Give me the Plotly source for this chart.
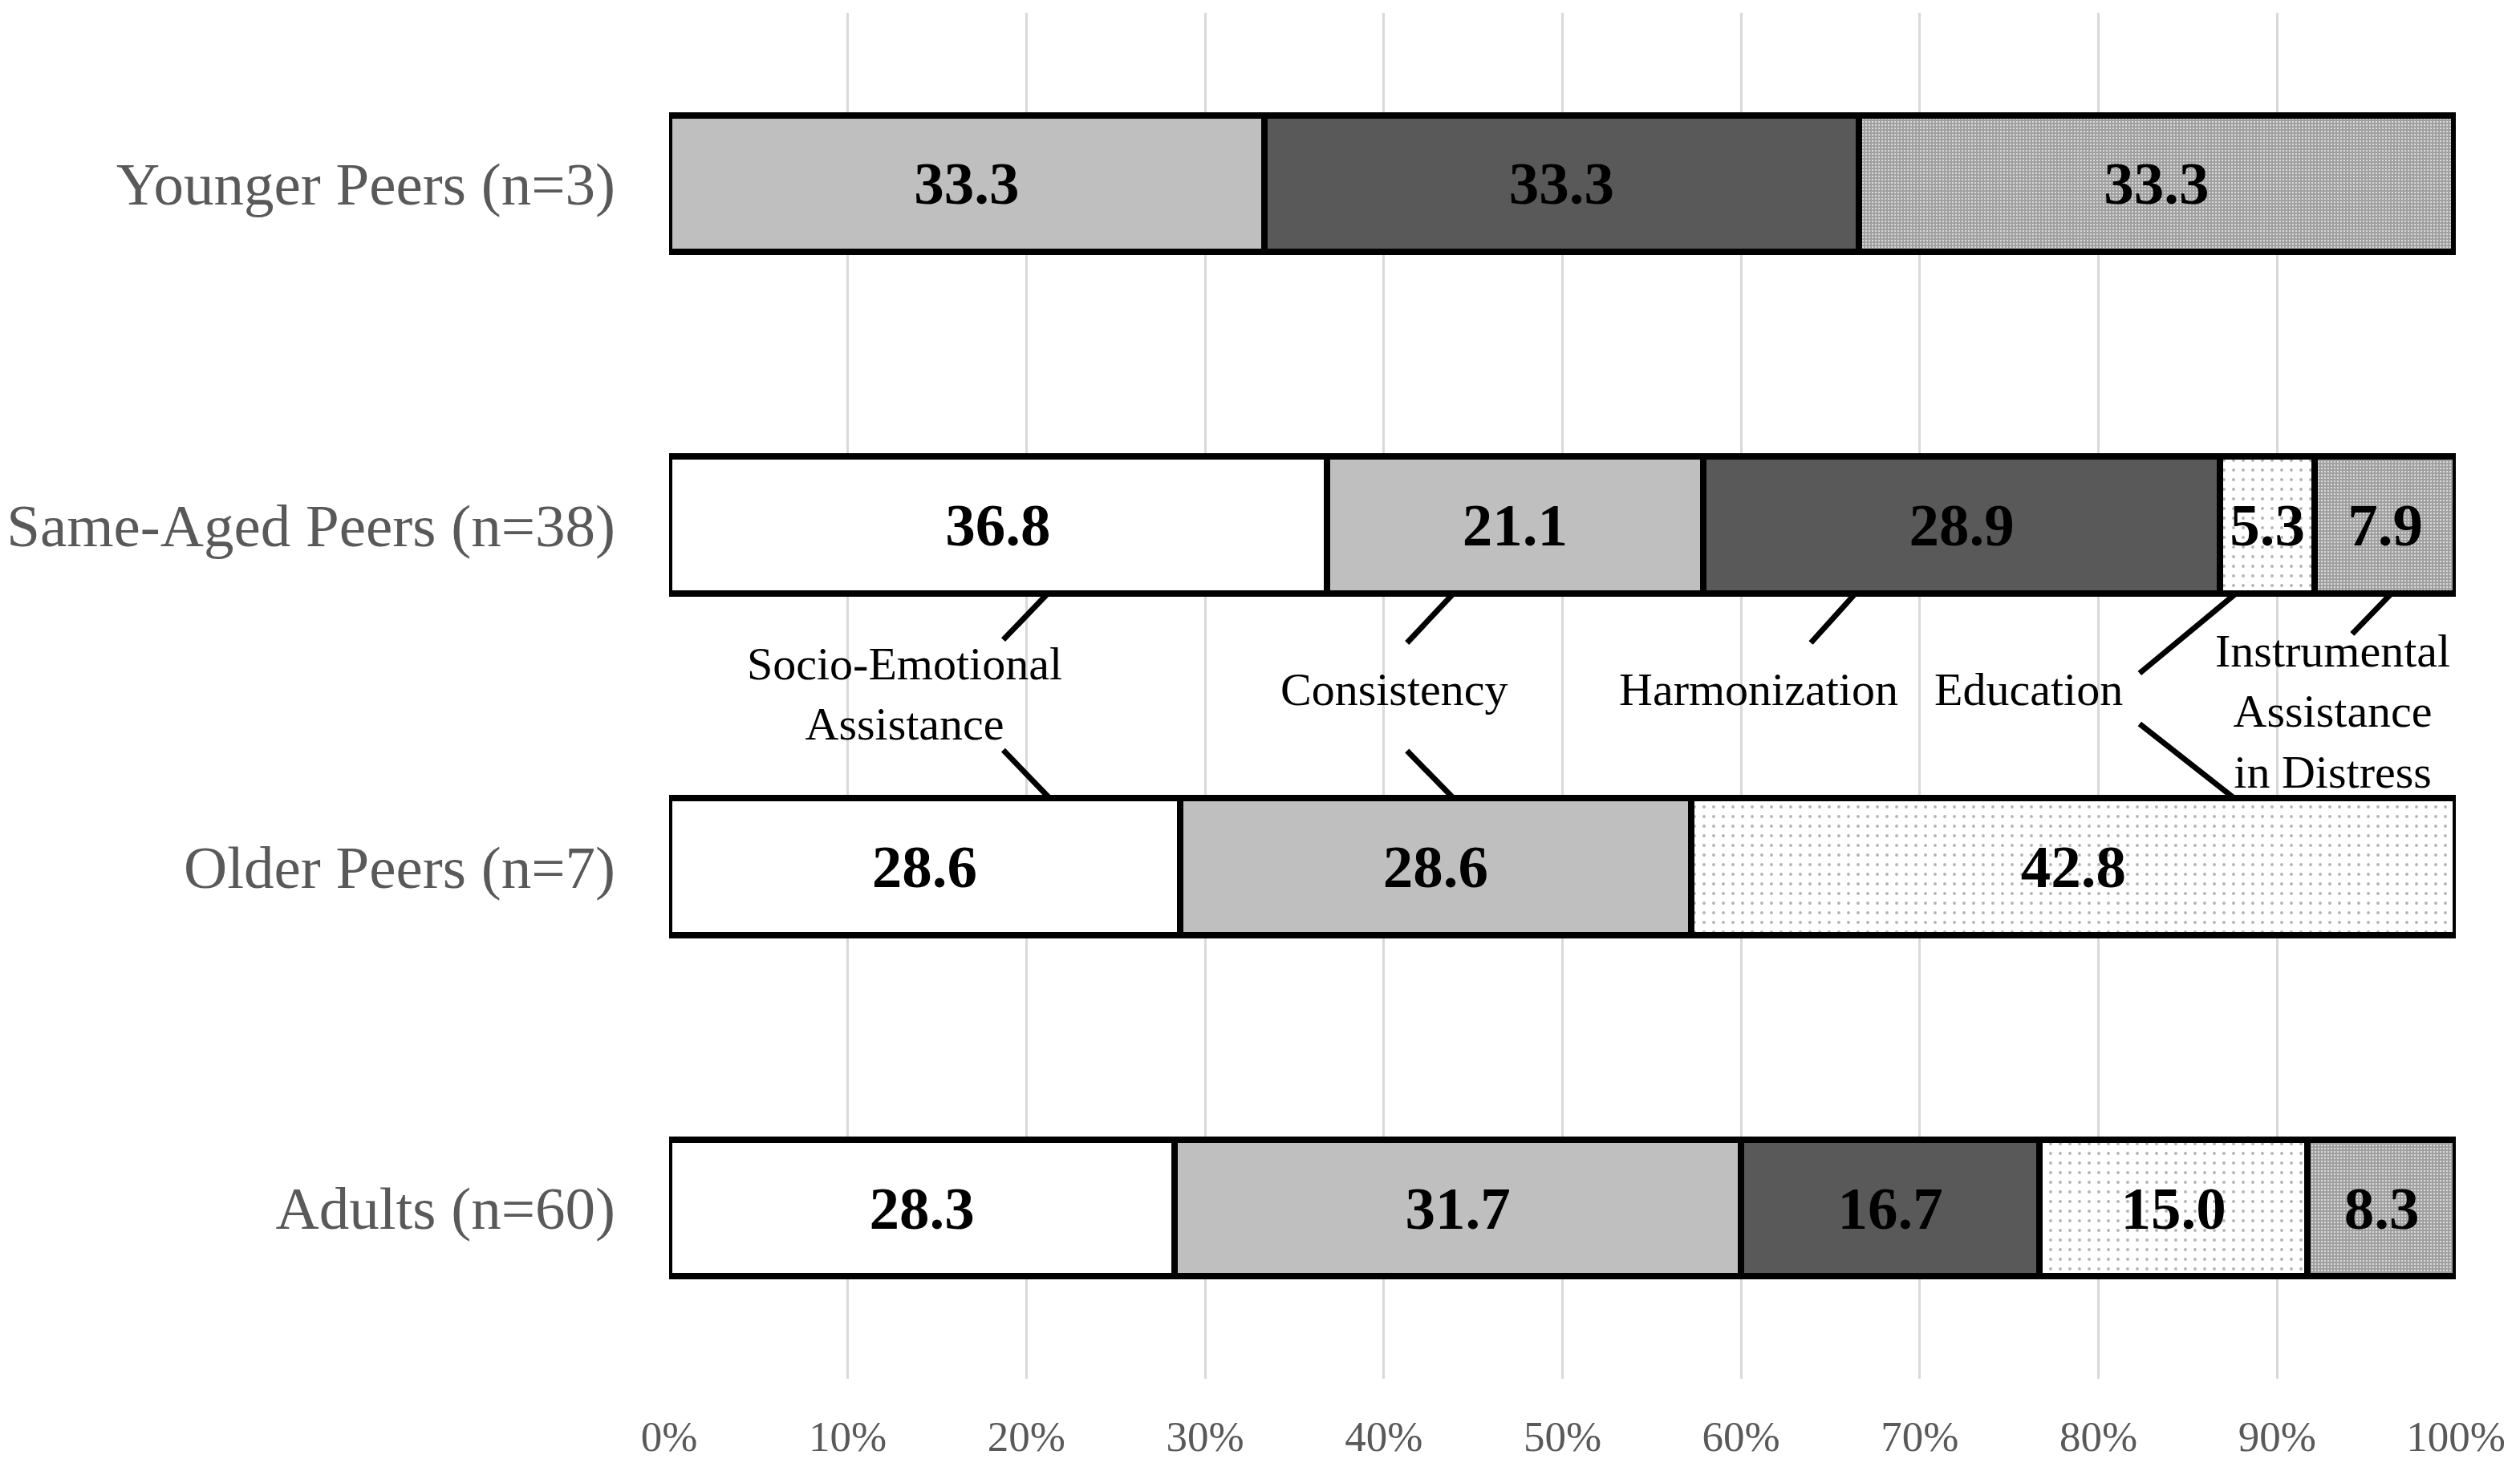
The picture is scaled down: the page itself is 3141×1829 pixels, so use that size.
import plotly.graph_objects as go

# Data (percent of each group)
groups = ['Younger Peers (n=3)', 'Same-Aged Peers (n=38)', 'Older Peers (n=7)', 'Adults (n=60)']
socio_emotional = [None, 36.8, 28.6, 28.3]
consistency = [33.3, 21.1, 28.6, 31.7]
harmonization = [33.3, 28.9, None, 16.7]
education = [None, 5.3, 42.8, 15.0]
instrumental = [33.3, 7.9, None, 8.3]

x_ticks = list(range(0, 101, 10))
x_ticktext = [f"{v}%" for v in x_ticks]

SERIF = "Liberation Serif, Times New Roman, serif"
OUTLINE = dict(color='black', width=8)

series = [
    ('Socio-Emotional Assistance', socio_emotional, dict(color='white')),
    ('Consistency', consistency, dict(color='#bfbfbf')),
    ('Harmonization', harmonization, dict(color='#595959')),
    ('Education', education,
     dict(color='white', pattern=dict(shape='.', size=12, solidity=0.08,
                                      fgcolor='#666666', bgcolor='white'))),
    ('Instrumental Assistance in Distress', instrumental,
     dict(color='white', pattern=dict(shape='.', size=4, solidity=0.8,
                                      fgcolor='#404040', bgcolor='white'))),
]

fig = go.Figure()
for name, vals, mk in series:
    fig.add_trace(go.Bar(
        y=groups,
        x=vals,
        name=name,
        orientation='h',
        width=0.4,
        marker=dict(**mk, line=OUTLINE),
        texttemplate='%{x:.1f}',
        textposition='inside',
        insidetextanchor='middle',
        textangle=0,
        textfont=dict(family=SERIF, size=75, color='black', weight='bold'),
        cliponaxis=False,
        showlegend=False,
    ))

# Callout labels sitting between the Same-Aged and Older bars
label_text = ['Socio-Emotional<br>Assistance', 'Consistency', 'Harmonization',
              'Education', 'Instrumental<br>Assistance<br>in Distress']
label_x = [13.2, 40.6, 61.0, 76.1, 93.1]
label_y = [1.505, 1.519, 1.519, 1.519, 1.454]

for t, lx, ly in zip(label_text, label_x, label_y):
    fig.add_annotation(x=lx, y=ly, xref='x', yref='y', text=t, showarrow=False,
                       font=dict(family=SERIF, size=58, color='black'),
                       xanchor='center', yanchor='middle', align='center')

# Leader lines (x0, y0, x1, y1) in axis units
leaders = [
    (21.2, 1.8, 18.7, 1.664), (18.7, 1.341, 21.3, 1.2),
    (43.9, 1.8, 41.3, 1.655), (41.3, 1.339, 43.9, 1.2),
    (66.4, 1.8, 63.9, 1.655),
    (87.7, 1.8, 82.3, 1.566), (82.3, 1.418, 87.6, 1.2),
    (96.4, 1.8, 94.2, 1.681),
]
for x0, y0, x1, y1 in leaders:
    fig.add_shape(type='line', xref='x', yref='y', x0=x0, y0=y0, x1=x1, y1=y1,
                  line=dict(color='black', width=7))

fig.update_layout(
    width=3141,
    height=1829,
    barmode='stack',
    plot_bgcolor='white',
    paper_bgcolor='white',
    margin=dict(l=826, r=88, t=8, b=118),
    uniformtext=dict(minsize=75, mode='show'),
    font=dict(family=SERIF),
)
fig.update_xaxes(
    range=[0, 100],
    tickvals=x_ticks,
    ticktext=x_ticktext,
    showgrid=True,
    gridcolor='#d9d9d9',
    gridwidth=2.5,
    zeroline=False,
    showline=False,
    ticks='',
    ticklabelstandoff=36,
    tickfont=dict(family=SERIF, size=53, color='#595959'),
    automargin=False,
)
fig.update_yaxes(
    categoryorder='array',
    categoryarray=groups[::-1],
    showgrid=False,
    zeroline=False,
    showline=False,
    ticks='',
    ticklabelstandoff=66,
    tickfont=dict(family=SERIF, size=75, color='#595959'),
    automargin=False,
)

fig.write_html("out.html")
